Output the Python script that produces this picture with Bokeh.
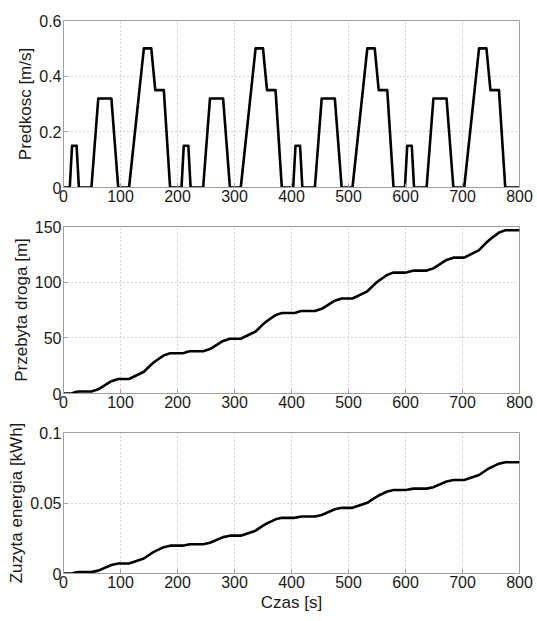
from bokeh.plotting import figure
from bokeh.layouts import column
from bokeh.models import Range1d, FixedTicker
from bokeh.embed import file_html
from bokeh.resources import INLINE

# ---- data ----
time_s = [0, 11, 15, 23, 27, 49, 61, 84, 96, 115, 141, 154, 161, 176, 187,
          207, 211, 219, 223, 245, 257, 280, 292, 311, 337, 350, 357, 372, 383,
          403, 407, 415, 419, 441, 453, 476, 488, 507, 533, 546, 553, 568, 579,
          599, 603, 611, 615, 637, 649, 672, 684, 703, 729, 742, 749, 764, 775, 800]

speed = [0, 0, 0.15, 0.15, 0, 0, 0.32, 0.32, 0, 0, 0.5, 0.5, 0.35, 0.35, 0,
         0, 0.15, 0.15, 0, 0, 0.32, 0.32, 0, 0, 0.5, 0.5, 0.35, 0.35, 0,
         0, 0.15, 0.15, 0, 0, 0.32, 0.32, 0, 0, 0.5, 0.5, 0.35, 0.35, 0,
         0, 0.15, 0.15, 0, 0, 0.32, 0.32, 0, 0, 0.5, 0.5, 0.35, 0.35, 0, 0]

distance = [0, 0, 0.3, 1.5, 1.8, 1.8, 3.72, 11.08, 13.0, 13.0, 19.5, 26.0, 28.98, 34.23, 36.15,
            36.15, 36.45, 37.65, 37.95, 37.95, 39.87, 47.23, 49.15, 49.15, 55.65, 62.15, 65.13, 70.38, 72.3,
            72.3, 72.6, 73.8, 74.1, 74.1, 76.02, 83.38, 85.3, 85.3, 91.8, 98.3, 101.28, 106.53, 108.6,
            108.6, 108.9, 110.1, 110.4, 110.4, 112.4, 120.0, 122.0, 122.0, 128.8, 135.6, 138.8, 144.5, 146.6, 146.6]

energy = [0, 0, 0.00016, 0.00082, 0.00098, 0.00098, 0.00203, 0.00605, 0.0071, 0.0071, 0.01065, 0.0142, 0.01582, 0.01869, 0.01974,
          0.01974, 0.0199, 0.02056, 0.02072, 0.02072, 0.02177, 0.02579, 0.02684, 0.02684, 0.03038, 0.03393, 0.03556, 0.03843, 0.03948,
          0.03948, 0.03964, 0.0403, 0.04046, 0.04046, 0.04151, 0.04553, 0.04657, 0.04657, 0.05012, 0.05367, 0.0553, 0.05817, 0.05921,
          0.05921, 0.05938, 0.06003, 0.0602, 0.0602, 0.06124, 0.06526, 0.06631, 0.06631, 0.06986, 0.07341, 0.07504, 0.0779, 0.07895, 0.07895]

x_ticks = [0, 100, 200, 300, 400, 500, 600, 700, 800]
speed_ticks = [0, 0.2, 0.4, 0.6]
speed_tick_labels = ["0", "0.2", "0.4", "0.6"]
dist_ticks = [0, 50, 100, 150]
dist_tick_labels = ["0", "50", "100", "150"]
energy_ticks = [0, 0.05, 0.1]
energy_tick_labels = ["0", "0.05", "0.1"]

FONT = "Liberation Sans"
FRAME = "#a0a0a0"


def make_fig(ys, ymax, yticks, ylabels, ylabel, height, top, bottom, xlabel=None):
    p = figure(width=537, height=height, output_backend="svg", toolbar_location=None,
               x_range=Range1d(0, 800), y_range=Range1d(0, ymax),
               min_border_left=63, min_border_right=18, min_border_top=top,
               min_border_bottom=bottom)
    p.line(time_s, ys, line_color="black", line_width=2.6, line_join="round")
    p.outline_line_color = FRAME
    p.outline_line_width = 1
    for ax in (p.xaxis[0], p.yaxis[0]):
        ax.axis_line_color = FRAME
        ax.major_tick_line_color = FRAME
        ax.major_tick_in = 4
        ax.major_tick_out = 0
        ax.minor_tick_line_color = None
        ax.major_label_text_font = FONT
        ax.major_label_text_font_size = "16px"
        ax.major_label_text_color = "#1a1a1a"
        ax.axis_label_text_font = FONT
        ax.axis_label_text_font_size = "17px"
        ax.axis_label_text_font_style = "normal"
        ax.axis_label_text_color = "#1a1a1a"
        ax.major_label_standoff = 2
        ax.axis_label_standoff = 1
    p.xaxis.ticker = FixedTicker(ticks=x_ticks)
    p.yaxis.ticker = FixedTicker(ticks=yticks)
    p.yaxis.major_label_overrides = {t: l for t, l in zip(yticks, ylabels)}
    p.yaxis.axis_label = ylabel
    if xlabel:
        p.xaxis.axis_label = xlabel
        p.xaxis.axis_label_standoff = 2
    p.xgrid.ticker = FixedTicker(ticks=x_ticks)
    p.ygrid.ticker = FixedTicker(ticks=yticks)
    for g in (p.xgrid[0], p.ygrid[0]):
        g.grid_line_color = "#a8a8a8"
        g.grid_line_dash = "1 3"
        g.grid_line_width = 1
    p.background_fill_color = "white"
    p.border_fill_color = "white"
    return p


p1 = make_fig(speed, 0.6, speed_ticks, speed_tick_labels, "Predkosc [m/s]", 214, 20, 27)
p2 = make_fig(distance, 150, dist_ticks, dist_tick_labels, "Przebyta droga [m]", 206, 12, 27)
p3 = make_fig(energy, 0.1, energy_ticks, energy_tick_labels, "Zuzyta energia [kWh]", 199, 12, 46, "Czas [s]")

layout = column(p1, p2, p3, spacing=0)
open("out.html", "w").write(file_html(layout, INLINE))
